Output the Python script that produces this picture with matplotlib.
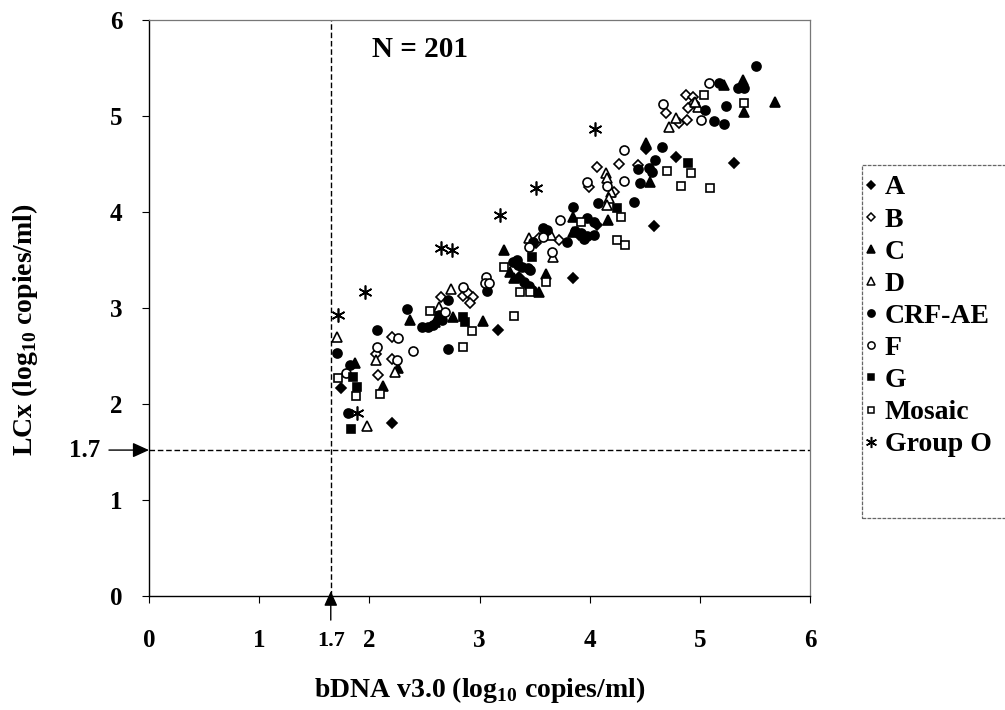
import numpy as np
import matplotlib
matplotlib.use("Agg")
import matplotlib.pyplot as plt
from matplotlib.lines import Line2D
from matplotlib.patches import Rectangle

plt.rcParams['font.family'] = ['Liberation Serif', 'DejaVu Serif']
plt.rcParams['font.weight'] = 'bold'
plt.rcParams['mathtext.fontset'] = 'custom'
plt.rcParams['mathtext.rm'] = 'Liberation Serif:bold'
plt.rcParams['mathtext.bf'] = 'Liberation Serif:bold'

# data (log10 copies/ml)
a_x = [1.74, 2.21, 3.17, 3.85, 4.58, 4.78, 5.31, 4.51, 3.90, 2.62, 3.36, 4.07]
a_y = [2.17, 1.80, 2.77, 3.31, 3.85, 4.57, 4.51, 4.66, 3.76, 2.86, 3.32, 3.86]

b_x = [2.21, 2.21, 2.08, 2.06, 2.65, 2.85, 2.90, 2.94, 2.91, 3.51, 3.54, 3.72, 3.99,
       4.07, 4.27, 4.22, 4.44, 4.87, 4.94, 4.95, 4.89, 4.69, 4.81, 4.88, 3.08]
b_y = [2.70, 2.47, 2.30, 2.52, 3.11, 3.13, 3.16, 3.11, 3.05, 3.68, 3.73, 3.71, 4.26,
       4.47, 4.50, 4.21, 4.49, 5.22, 5.20, 5.14, 5.08, 5.03, 4.93, 4.96, 3.26]

c_x = [1.87, 2.26, 2.12, 2.37, 2.76, 3.03, 3.22, 3.28, 3.31, 3.54, 3.60, 3.85, 3.85,
       4.17, 4.55, 4.51, 5.22, 5.39, 5.68, 5.40, 2.60]
c_y = [2.43, 2.38, 2.19, 2.88, 2.91, 2.86, 3.60, 3.38, 3.31, 3.17, 3.35, 3.95, 3.79,
       3.92, 4.31, 4.72, 5.32, 5.37, 5.15, 5.04, 2.85]

d_x = [1.71, 2.06, 2.23, 1.98, 2.74, 2.63, 3.45, 3.65, 3.67, 4.15, 4.16, 4.19, 4.18,
       4.16, 4.72, 4.78, 4.98, 4.96]
d_y = [2.70, 2.46, 2.33, 1.77, 3.20, 3.01, 3.73, 3.76, 3.53, 4.41, 4.35, 4.21, 4.15,
       4.07, 4.89, 4.98, 5.09, 5.15]

crf_x = [1.71, 1.82, 1.81, 2.07, 2.34, 2.71, 2.71, 2.63, 2.53, 2.58, 2.66, 3.07, 3.34,
         3.35, 3.39, 3.44, 3.46, 3.40, 3.45, 3.48, 3.58, 3.61, 3.49, 3.79, 3.85, 4.08,
         4.40, 3.98, 4.04, 3.92, 3.98, 4.04, 4.44, 4.54, 4.57, 4.59, 4.46, 4.66, 5.05,
         5.24, 5.13, 5.22, 5.17, 5.35, 5.40, 5.51, 3.87, 3.95, 2.48, 3.30]
crf_y = [2.53, 2.41, 1.91, 2.77, 2.99, 2.57, 3.08, 2.93, 2.80, 2.82, 2.88, 3.18, 3.50,
         3.45, 3.43, 3.42, 3.40, 3.27, 3.23, 3.19, 3.83, 3.81, 3.69, 3.69, 4.05, 4.09,
         4.10, 3.94, 3.90, 3.78, 3.75, 3.76, 4.45, 4.46, 4.42, 4.54, 4.30, 4.68, 5.06,
         5.10, 4.95, 4.92, 5.34, 5.29, 5.29, 5.52, 3.80, 3.72, 2.80, 3.48]

f_x = [1.79, 2.07, 2.26, 2.25, 2.40, 2.85, 2.69, 3.06, 3.05, 3.09, 3.45, 3.58, 3.66,
       3.73, 3.98, 4.16, 4.31, 4.31, 4.67, 5.01, 5.08]
f_y = [2.32, 2.59, 2.69, 2.46, 2.55, 3.22, 2.96, 3.32, 3.26, 3.26, 3.64, 3.74, 3.58,
       3.92, 4.31, 4.27, 4.32, 4.65, 5.13, 4.96, 5.34]

g_x = [1.85, 1.89, 1.83, 2.85, 2.87, 3.48, 4.25, 4.89]
g_y = [2.28, 2.18, 1.74, 2.91, 2.85, 3.53, 4.04, 4.51]

mosaic_x = [1.72, 1.88, 2.10, 2.55, 2.85, 2.93, 3.31, 3.22, 3.37, 3.46, 3.60, 3.92,
            4.28, 4.25, 4.32, 4.70, 4.83, 4.92, 5.09, 5.04, 5.40]
mosaic_y = [2.27, 2.08, 2.10, 2.97, 2.59, 2.76, 2.92, 3.43, 3.17, 3.17, 3.27, 3.90,
            3.95, 3.71, 3.66, 4.43, 4.27, 4.41, 4.25, 5.22, 5.14]

o_x = [1.72, 1.96, 1.89, 2.65, 2.75, 3.19, 3.51, 4.05]
o_y = [2.93, 3.17, 1.91, 3.63, 3.60, 3.97, 4.25, 4.86]

# the cutoff lines sit a little off their "1.7" labels in the original drawing
cutoff_label = "1.7"
cutoff_x = 1.65
cutoff_y = 1.52
ticks = [0, 1, 2, 3, 4, 5, 6]

# label, x, y, marker, size, filled
groups = [
    ("A", a_x, a_y, "D", 5, True),
    ("B", b_x, b_y, "D", 5, False),
    ("C", c_x, c_y, "^", 7, True),
    ("D", d_x, d_y, "^", 7, False),
    ("CRF-AE", crf_x, crf_y, "o", 6.5, True),
    ("F", f_x, f_y, "o", 6.5, False),
    ("G", g_x, g_y, "s", 6, True),
    ("Mosaic", mosaic_x, mosaic_y, "s", 6, False),
    ("Group O", o_x, o_y, (6, 2, 0), 10, True),
]

fig = plt.figure(figsize=(10.05, 7.10), dpi=100)
ax = fig.add_axes([149 / 1005, 114 / 710, 661 / 1005, 576 / 710])

handles = []
for name, xs, ys, mk, ms, filled in groups:
    fc = "black" if filled else "white"
    ax.plot(xs, ys, ls="none", marker=mk, ms=ms, mfc=fc, mec="black", mew=1.2, zorder=3)
    handles.append(Line2D([], [], ls="none", marker=mk, ms=ms * 0.8, mfc=fc,
                          mec="black", mew=1.1, label=name))

# cutoff lines
ax.axhline(cutoff_y, color="black", lw=1, ls=(0, (4, 2)), zorder=1)
ax.axvline(cutoff_x, color="black", lw=1, ls=(0, (4, 2)), zorder=1)

ax.set_xlim(0, 6)
ax.set_ylim(0, 6)
ax.set_xticks(ticks)
ax.set_yticks(ticks)
ax.tick_params(axis="both", direction="out", length=5, width=0.8, labelsize=18)
ax.tick_params(axis="x", pad=19)
ax.tick_params(axis="y", pad=14)

for s in ["top", "right"]:
    ax.spines[s].set_color("#777777")
    ax.spines[s].set_linewidth(0.9)
    ax.spines[s].set_linestyle((0, (2, 1)))
for s in ["left", "bottom"]:
    ax.spines[s].set_color("black")
    ax.spines[s].set_linewidth(1.0)

ax.text(2.46, 5.69, "N = 201", ha="center", va="center", fontsize=21, fontweight="bold")

# arrows marking the cutoff on both axes
arrow = dict(arrowstyle="-|>,head_length=0.55,head_width=0.25", color="black", lw=1)
ax.annotate(cutoff_label, xy=(0, cutoff_y), xycoords="data", xytext=(-64, 0),
            textcoords="offset pixels", ha="center", va="center", fontsize=18,
            annotation_clip=False, arrowprops=dict(arrow, shrinkA=4, shrinkB=0))
ax.annotate(cutoff_label, xy=(cutoff_x, 0.05), xycoords="data", xytext=(0, -50),
            textcoords="offset pixels", ha="center", va="center", fontsize=16,
            annotation_clip=False, arrowprops=dict(arrow, shrinkA=6, shrinkB=0))

ax.set_xlabel(r"bDNA v3.0 (log$_{\mathrm{10}}$ copies/ml)", fontsize=20, fontweight="bold")
ax.set_ylabel(r"LCx (log$_{\mathrm{10}}$ copies/ml)", fontsize=20, fontweight="bold")
ax.xaxis.set_label_coords(0.5, -0.138)
ax.yaxis.set_label_coords(-0.165, 0.462)

leg = fig.legend(handles=handles, loc="upper left", bbox_to_anchor=(864 / 1005, 1 - 175 / 710),
                 prop={"family": "Liberation Serif", "weight": "bold", "size": 20},
                 frameon=False, handlelength=0.5, handletextpad=0.25,
                 labelspacing=0.24, borderpad=0.0, borderaxespad=0)
# legend box (runs past the right edge like the original)
fig.patches.append(Rectangle((862 / 1005, 1 - 518 / 710), 160 / 1005, 353 / 710,
                             transform=fig.transFigure, fill=False, edgecolor="#666666",
                             lw=0.9, ls=(0, (3, 1)), clip_on=False))

fig.savefig("out.png", dpi=100)
